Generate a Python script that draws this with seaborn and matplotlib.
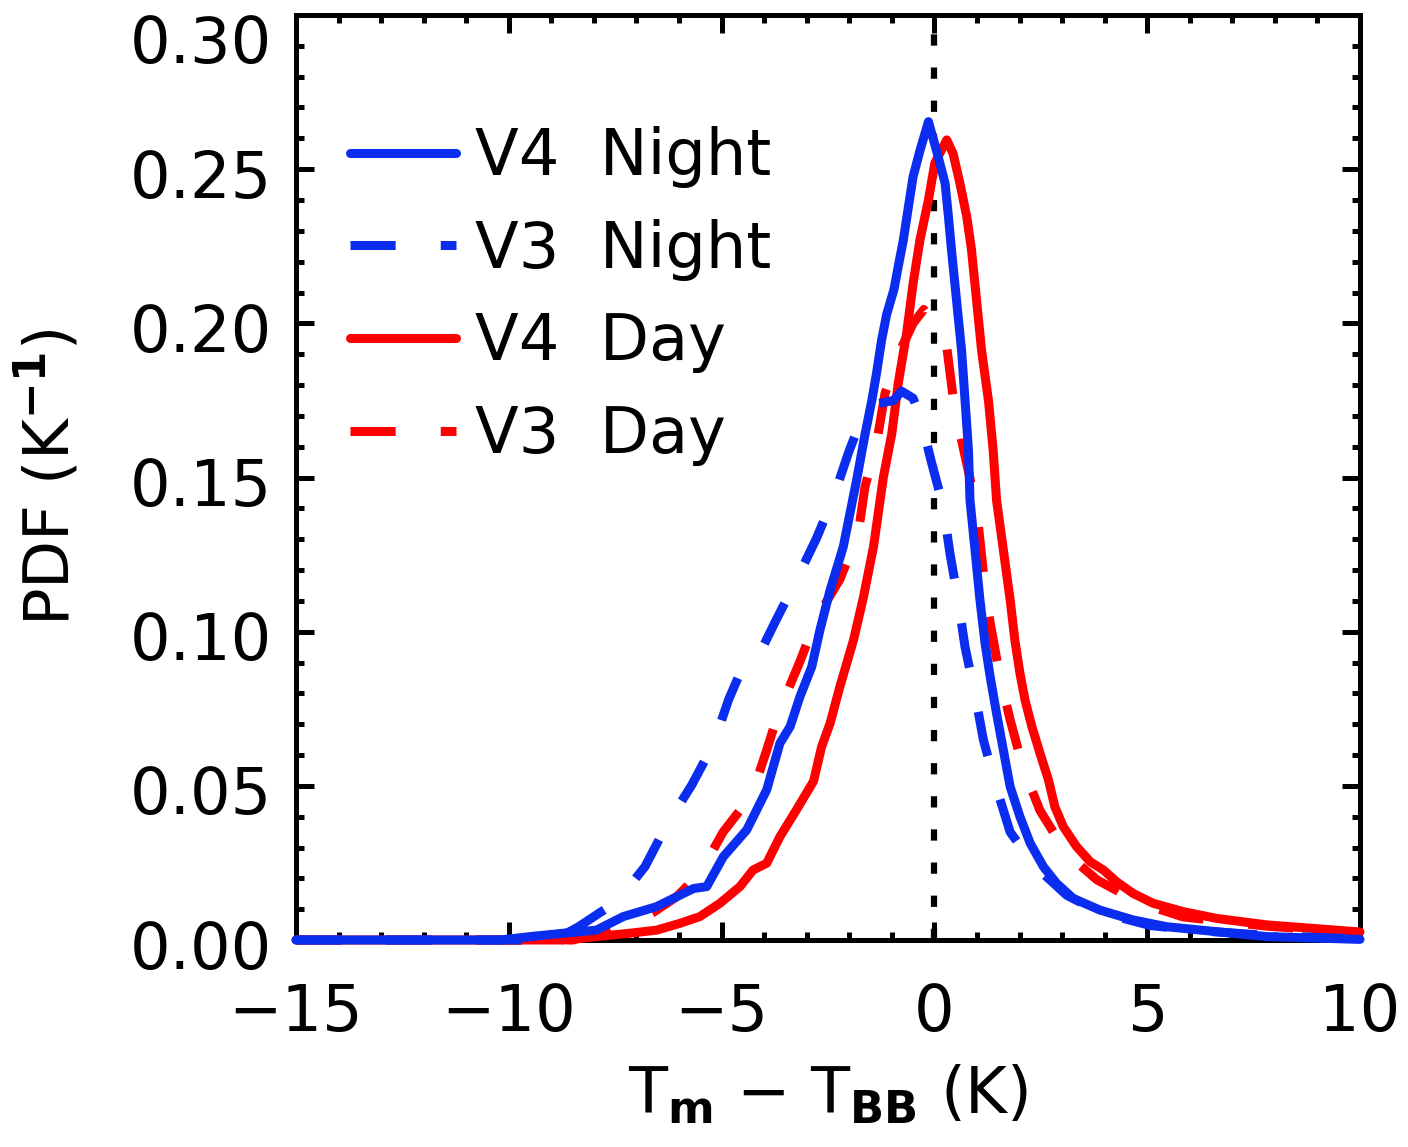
import numpy as np
import pandas as pd
import matplotlib
matplotlib.use("Agg")
import matplotlib.pyplot as plt
from matplotlib.ticker import MultipleLocator
from matplotlib.transforms import ScaledTranslation
import seaborn as sns

# ---------------- data ----------------
x_v4_night = [-15, -10.2, -9.5, -8.72, -7.94, -7.31, -6.92, -6.53, -6.06, -5.66, -5.35,
              -4.96, -4.41, -3.94, -3.63, -3.39, -3.16, -2.88, -2.69, -2.45, -2.14, -1.83,
              -1.63, -1.47, -1.36, -1.24, -1.12, -0.95, -0.85, -0.73, -0.61, -0.50, -0.34,
              -0.14, 0.05, 0.25, 0.33, 0.40, 0.48, 0.56, 0.64, 0.72, 0.80, 0.836, 0.954,
              1.07, 1.19, 1.31, 1.46, 1.62, 1.78, 2.01, 2.25, 2.56, 2.87, 3.26, 3.89,
              4.67, 5.46, 6.63, 7.81, 10]
y_v4_night = [0.0, 0.0, 0.0011, 0.0022, 0.0032, 0.0076, 0.0092, 0.0108, 0.0140, 0.0167, 0.0173,
              0.0270, 0.0357, 0.0487, 0.0638, 0.0692, 0.0789, 0.0887, 0.1005, 0.1135, 0.1276, 0.1490,
              0.1640, 0.1750, 0.1838, 0.1946, 0.2030, 0.2110, 0.2184, 0.2270, 0.2378, 0.2476, 0.2560,
              0.2654, 0.2560, 0.2455, 0.2346, 0.2240, 0.2130, 0.2020, 0.1910, 0.1750, 0.1590, 0.1427, 0.1265,
              0.1103, 0.0962, 0.0854, 0.0735, 0.0616, 0.0497, 0.0400, 0.0314, 0.0238, 0.0184, 0.0135, 0.0097,
              0.0065, 0.0043, 0.0027, 0.0011, 0.0002]

x_v3_night = [-15, -9.5, -8.8, -8.36, -7.89, -7.46, -6.80, -6.29, -5.70, -5.19, -4.84, -4.57,
              -4.22, -3.74, -3.24, -2.77, -2.38, -2.02, -1.63, -1.30, -0.96, -0.77, -0.50, -0.34,
              -0.07, 0.20, 0.37, 0.56, 0.72, 0.95, 1.15, 1.42, 1.78, 2.36, 3.11, 3.89, 5.07,
              6.24, 7.8, 10]
y_v3_night = [0.0, 0.0, 0.0010, 0.0043, 0.0086, 0.0124, 0.0238, 0.0373, 0.0503, 0.0635, 0.0778, 0.0865,
              0.0897, 0.1032, 0.1168, 0.1303, 0.1432, 0.1580, 0.1720, 0.1740, 0.1750, 0.1780, 0.1757, 0.1700,
              0.1550, 0.1410, 0.1250, 0.1100, 0.0950, 0.0800, 0.0650, 0.0510, 0.0350, 0.0240, 0.0145, 0.0090, 0.0047,
              0.0030, 0.0015, 0.0003]

x_v4_day = [-15, -8.72, -7.94, -7.15, -6.53, -5.98, -5.51, -5.04, -4.57, -4.26, -3.94, -3.63,
            -3.25, -2.84, -2.65, -2.45, -2.22, -1.90, -1.67, -1.43, -1.20, -1.00, -0.85, -0.65,
            -0.50, -0.34, -0.14, 0.01, 0.29, 0.44, 0.60, 0.76, 0.87, 0.99, 1.11, 1.27, 1.38,
            1.46, 1.62, 1.78, 1.89, 2.01, 2.13, 2.29, 2.48, 2.68, 2.83, 3.03, 3.34, 3.66,
            3.97, 4.28, 4.67, 5.14, 5.85, 6.63, 7.81, 10]
y_v4_day = [0.0, 0.0, 0.0011, 0.0022, 0.0032, 0.0054, 0.0076, 0.0119, 0.0173, 0.0227, 0.0249, 0.0335,
            0.0420, 0.0515, 0.0627, 0.0703, 0.0822, 0.0973, 0.1110, 0.1276, 0.1500, 0.1643, 0.1805, 0.1970,
            0.2130, 0.2270, 0.2400, 0.2520, 0.2595, 0.2550, 0.2454, 0.2346, 0.2240, 0.2076, 0.1910, 0.1750, 0.1590,
            0.1427, 0.1265, 0.1103, 0.0973, 0.0865, 0.0778, 0.0692, 0.0606, 0.0519, 0.0432, 0.0367, 0.0303, 0.0254,
            0.0227, 0.0189, 0.0151, 0.0119, 0.0092, 0.0070, 0.0049, 0.0026]

x_v3_day = [-15, -8.5, -7.8, -7.31, -6.6, -6.06, -5.51, -4.96, -4.29, -3.94, -3.67, -3.16,
            -2.77, -2.22, -1.79, -1.63, -1.36, -1.16, -0.81, -0.50, -0.25, 0.00, 0.29, 0.44,
            0.64, 0.99, 1.23, 1.54, 1.78, 2.08, 2.48, 3.11, 3.82, 4.83, 5.84, 7.8, 10]
y_v3_day = [0.0, 0.0, 0.0022, 0.0043, 0.0090, 0.0140, 0.0216, 0.0351, 0.0470, 0.0616, 0.0735, 0.0903,
            0.1043, 0.1170, 0.1320, 0.1470, 0.1610, 0.1773, 0.1910, 0.2000, 0.2045, 0.2000, 0.1924, 0.1760,
            0.1620, 0.1400, 0.1090, 0.0854, 0.0714, 0.0560, 0.0420, 0.0280, 0.0195, 0.0120, 0.0075, 0.0045, 0.0024]

labels = ["V4  Night", "V3  Night", "V4  Day", "V3  Day"]
x_ticks = [-15, -10, -5, 0, 5, 10]
y_ticks = [0.0, 0.05, 0.10, 0.15, 0.20, 0.25, 0.30]
y_ticklabels = ["0.00", "0.05", "0.10", "0.15", "0.20", "0.25", "0.30"]
blue = "#0a2df0"
red = "#ff0000"

# ---------------- figure ----------------
sns.set_style("ticks")
plt.rcParams["font.family"] = ["DejaVu Sans"]
plt.rcParams["mathtext.fontset"] = "dejavusans"
for k in ["text.color", "axes.labelcolor", "xtick.color", "ytick.color", "axes.edgecolor"]:
    plt.rcParams[k] = "black"

fig = plt.figure(figsize=(14.08, 11.47), dpi=100)
ax = fig.add_axes([296 / 1408, 1 - 940 / 1147, (1360 - 296) / 1408, (940 - 15) / 1147])

LW = 6.5
dash = (0, (5, 5))

series = [
    (x_v4_day, y_v4_day, labels[2], red, "-"),
    (x_v3_day, y_v3_day, labels[3], red, dash),
    (x_v3_night, y_v3_night, labels[1], blue, dash),
    (x_v4_night, y_v4_night, labels[0], blue, "-"),
]
handles = {}
for i, (xs, ys, lab, col, ls) in enumerate(series):
    df = pd.DataFrame({"x": xs, "y": ys})
    sns.lineplot(data=df, x="x", y="y", ax=ax, color=col, linewidth=LW,
                 linestyle=ls, label=lab, clip_on=False, zorder=3 + i,
                 estimator=None, sort=False)
    line = ax.lines[-1]
    line.set_solid_joinstyle("round")
    line.set_dash_joinstyle("round")
    handles[lab] = line

ax.axvline(0, color="black", linewidth=4.5, linestyle=(0, (1.8, 3.5)), zorder=2)

ax.set_xlim(-15, 10)
ax.set_ylim(0, 0.30)
ax.set_xticks(x_ticks)
ax.set_yticks(y_ticks)
ax.set_yticklabels(y_ticklabels)
ax.xaxis.set_minor_locator(MultipleLocator(1))
ax.yaxis.set_minor_locator(MultipleLocator(0.01))

for sp in ax.spines.values():
    sp.set_linewidth(3.6)
    sp.set_color("black")
    sp.set_zorder(2.5)

ax.tick_params(which="both", direction="in", top=True, right=True, width=3.6, color="black")
ax.tick_params(which="major", length=13)
ax.tick_params(which="minor", length=6)
ax.tick_params(axis="x", which="major", labelsize=46, pad=30)
ax.tick_params(axis="y", which="major", labelsize=46, pad=17)

# shift y tick labels slightly down, the top one enough to stay inside the figure
for lab, val in zip(ax.get_yticklabels(), y_ticks):
    dy = 23 if val >= 0.30 else 4
    lab.set_transform(lab.get_transform() + ScaledTranslation(0, -dy / 100, fig.dpi_scale_trans))

ax.set_xlabel(r"T$_{\mathbf{m}}$ $-$ T$_{\mathbf{BB}}$ (K)", fontsize=46, labelpad=14)
ax.set_ylabel(r"PDF (K$^{\mathbf{-1}}$)", fontsize=45, labelpad=34)

leg = ax.legend([handles[l] for l in labels], labels, loc="upper left",
                bbox_to_anchor=(0.051, 0.880), frameon=False, fontsize=46,
                handlelength=1.65, handletextpad=0.3, labelspacing=0.48,
                borderaxespad=0.0, borderpad=0.0)

fig.savefig("out.png", dpi=100)
